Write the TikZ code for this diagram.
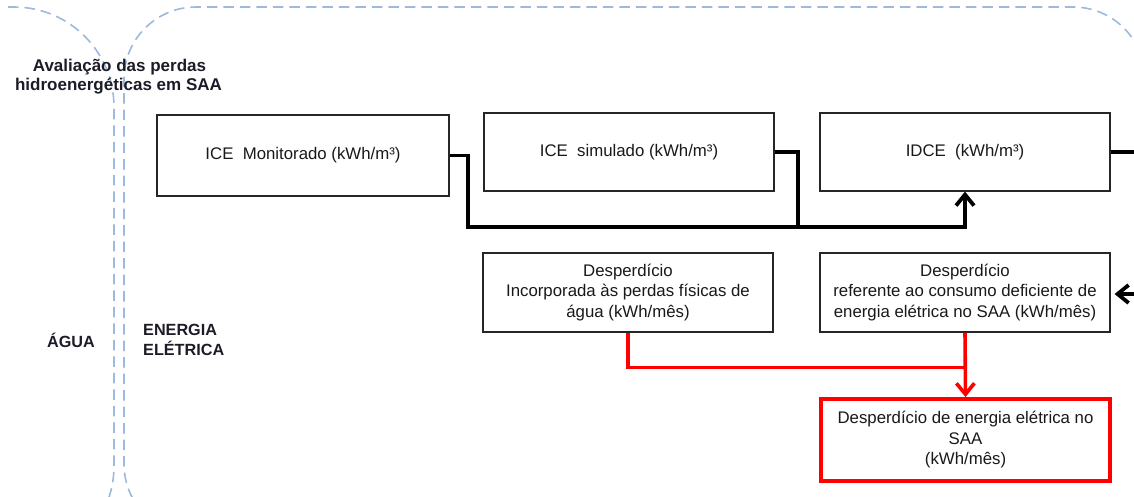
\documentclass[tikz,border=0pt]{standalone}
\usepackage{fontspec}
\setmainfont{Liberation Sans}
\usetikzlibrary{arrows.meta,calc}
\definecolor{zoneblue}{HTML}{9CB9DE}
\definecolor{flowred}{HTML}{FF0000}
\definecolor{labelink}{HTML}{1C1C28}
\begin{document}
\begin{tikzpicture}[x=1pt,y=-1pt,
  zone/.style={draw=zoneblue, line width=1.6pt, dash pattern=on 10.5pt off 6pt},
  stepbox/.style={draw=black!85, line width=1.2pt, fill=white, align=center,
    inner sep=0pt, font=\fontsize{16.8}{20.5}\selectfont, text=black!90},
  totalbox/.style={stepbox, draw=flowred, line width=3.8pt},
  flow/.style={line width=3.8pt, draw=black},
  redflow/.style={line width=3.6pt, draw=flowred},
  tip/.style={-{Straight Barb[length=11pt,width=18pt]}},
  zonelabel/.style={font=\bfseries\fontsize{16.2}{20}\selectfont, text=labelink,
    inner sep=0pt, anchor=base},
  titlelabel/.style={zonelabel, font=\bfseries\fontsize{17}{20}\selectfont}
]
\useasboundingbox (0,0) rectangle (1134,496);

% dashed zone outlines: water (left) and electric energy (right)
\begin{scope}
  \clip (0,0) rectangle (1134,496);
  \draw[zone, rounded corners=100pt] (8,7) -- (114,7) -- (114,566) -- (0,566);
  \draw[zone, rounded corners=72pt] (300,536) -- (124,536) -- (124,7)
    -- (1145,7) -- (1145,200);
\end{scope}

% zone labels
\node[titlelabel] (title1) at (119.5,71) {Avaliação das perdas};
\node[titlelabel] (title2) at (118.5,90) {hidroenergéticas em SAA};
\node[zonelabel] (agua) at (71,347) {ÁGUA};
\node[zonelabel, anchor=base west] (ener1) at (143,335) {ENERGIA};
\node[zonelabel, anchor=base west] (ener2) at (143,355) {ELÉTRICA};

% indicator boxes
\node[stepbox, minimum width=292pt, minimum height=81pt] (mon) at (303,155.5)
  {ICE\ \ Monitorado (kWh/m³)};
\node[stepbox, minimum width=290pt, minimum height=78pt] (sim) at (629,152)
  {ICE\ \ simulado (kWh/m³)};
\node[stepbox, minimum width=290pt, minimum height=78pt] (idce) at (965,152)
  {IDCE\ \ (kWh/m³)};

% waste boxes
\node[stepbox, minimum width=290pt, minimum height=79pt] (wphys) at (628,292.5)
  {Desperdício\\Incorporada às perdas físicas de\\água (kWh/mês)};
\node[stepbox, minimum width=290pt, minimum height=79pt] (wdef) at (965,292.5)
  {Desperdício\\referente ao consumo deficiente de\\energia elétrica no SAA (kWh/mês)};
\node[totalbox, minimum width=289pt, minimum height=82pt] (total) at (965.5,440)
  {Desperdício de energia elétrica no\\SAA\\(kWh/mês)};

% free ends at the right margin
\coordinate (rimtop) at (1134,152);
\coordinate (rimmid) at (1134,294);

% black connectors
\draw[flow, tip] (mon.east) -- ++(18,0) |- ($(idce.south)+(0,35)$) -- (idce.south);
\draw[flow] (sim.east) -| ($(sim.east)+(23,74)$);
\draw[flow] (idce.east) -- (rimtop);
\draw[flow, tip, shorten >=4pt] (rimmid) -- (wdef.east |- rimmid);

% red connectors
\draw[redflow] (wphys.south) |- ($(wdef.south)+(0,35)$);
\draw[redflow, tip] (wdef.south) -- (total.north);
\end{tikzpicture}
\end{document}
